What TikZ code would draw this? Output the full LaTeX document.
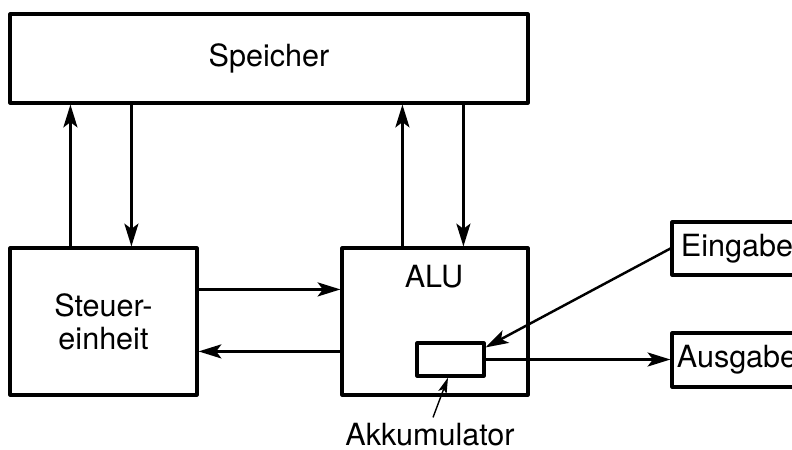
\documentclass[tikz,border=0pt]{standalone}
\usepackage{fontspec}
\setmainfont{TeX Gyre Heros}
\usetikzlibrary{arrows.meta,positioning}
\begin{document}
\begin{tikzpicture}[x=0.02cm,y=-0.02cm,>={Stealth[length=13pt,width=8pt,inset=3pt]},line join=round,
 font=\fontsize{17.4}{19}\selectfont,
 box/.style={draw,line width=1.8pt,inner sep=0pt},
 conn/.style={->,line width=1.4pt}]
 \useasboundingbox (0,0) rectangle (792,450);
 \clip (0,0) rectangle (792,450);
 % Bausteine
 \node[box,minimum width=10.36cm,minimum height=1.78cm] (speicher) at (269,58.5) {Speicher};
 \node[box,minimum width=3.74cm,minimum height=2.94cm,align=center] (steuer) at (103.5,321.5) {Steuer-\\einheit};
 \node[box,minimum width=3.72cm,minimum height=2.94cm] (alu) at (435,321.5) {};
 \node (alutext) at (434,277) {ALU};
 \node[box,minimum width=1.34cm,minimum height=0.66cm] (akku) at (450.5,359.5) {};
 \node[box,minimum width=2.6cm,minimum height=1.06cm] (eingabe) at (737,248.5) {Eingabe};
 \node[box,minimum width=2.6cm,minimum height=1.08cm] (ausgabe) at (737,360) {Ausgabe};
 \node (akkulabel) at (430,435) {Akkumulator};
 % Verbindungen zum Speicher
 \coordinate (up1) at ([xshift=1.24cm]steuer.north west);
 \coordinate (dn1) at ([xshift=2.46cm]steuer.north west);
 \coordinate (up2) at ([xshift=1.24cm]alu.north west);
 \coordinate (dn2) at ([xshift=2.46cm]alu.north west);
 \draw[conn] (up1) -- (up1 |- speicher.south);
 \draw[conn] (dn1 |- speicher.south) -- (dn1);
 \draw[conn] (up2) -- (up2 |- speicher.south);
 \draw[conn] (dn2 |- speicher.south) -- (dn2);
 % Steuereinheit <-> ALU
 \coordinate (hin) at ([yshift=-0.86cm]steuer.north east);
 \coordinate (rueck) at ([yshift=-2.1cm]steuer.north east);
 \draw[conn] (hin) -- (hin -| alu.west);
 \draw[conn] (rueck -| alu.west) -- (rueck);
 % Ein- und Ausgabe
 \draw[conn] (eingabe.west) -- ([yshift=-0.12cm]akku.north east);
 \draw[conn] (akku.east) -- (akku.east -| ausgabe.west);
 \draw[->,line width=0.8pt,>={Stealth[length=9pt,width=5pt,inset=2pt]}] ([xshift=0.06cm]akkulabel.north) -- ([xshift=-0.05cm]akku.south);
\end{tikzpicture}
\end{document}
